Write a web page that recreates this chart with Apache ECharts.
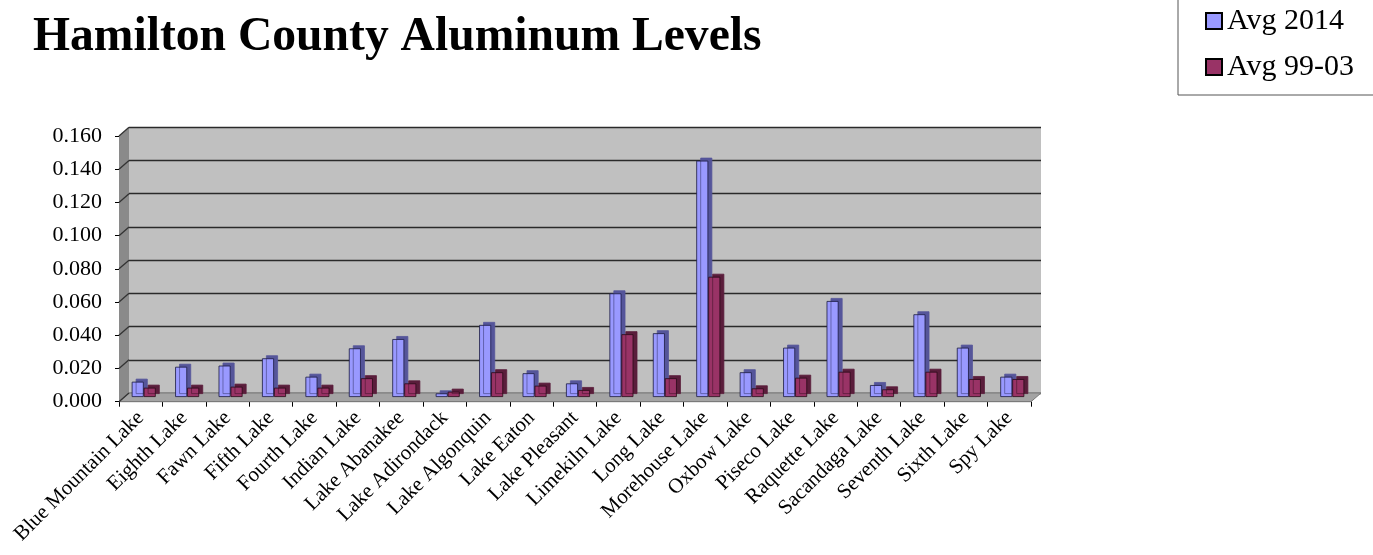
<!DOCTYPE html>
<html>
<head>
<meta charset="utf-8">
<script src="https://cdn.jsdelivr.net/npm/echarts@6/dist/echarts.min.js"></script>
<style>html,body{margin:0;padding:0;background:#fff}#c{width:1373px;height:555px}</style>
</head>
<body>
<div id="c"></div>
<script>
const categories = ['Blue Mountain Lake','Eighth Lake','Fawn Lake','Fifth Lake','Fourth Lake','Indian Lake','Lake Abanakee','Lake Adirondack','Lake Algonquin','Lake Eaton','Lake Pleasant','Limekiln Lake','Long Lake','Morehouse Lake','Oxbow Lake','Piseco Lake','Raquette Lake','Sacandaga Lake','Seventh Lake','Sixth Lake','Spy Lake'];
const avg2014 = [0.0092,0.0182,0.0189,0.0233,0.0122,0.0293,0.0349,0.0022,0.0434,0.0143,0.0082,0.0624,0.0384,0.1423,0.0149,0.0297,0.0578,0.0072,0.0498,0.0297,0.0122];
const avg9903 = [0.0056,0.0056,0.0062,0.0056,0.0056,0.0113,0.0082,0.0032,0.0149,0.0068,0.0042,0.0378,0.0113,0.0724,0.0052,0.0116,0.0152,0.0046,0.0152,0.0108,0.0108];
const yTicks = [0,0.02,0.04,0.06,0.08,0.10,0.12,0.14,0.16];

const FONT = 'Liberation Serif';
// layout
const W = 912, H = 265.7;
const front = {left:119, top:136};
const back = {left:129, top:127.3};
const bars = {left:122, top:131.3};

const chart = echarts.init(document.getElementById('c'), null, {renderer:'canvas'});

// decorative 3D frame (side wall, floor, side gridlines) derived from layout
const graphics = [];
const fb = front.top + H, bb = back.top + H;
graphics.push({type:'polygon', z:1, shape:{points:[[front.left,front.top],[back.left,back.top],[back.left,bb],[front.left,fb]]}, style:{fill:'#8a8a8a'}});
graphics.push({type:'polygon', z:1, shape:{points:[[front.left,fb],[front.left+W,fb],[back.left+W,bb],[back.left,bb]]}, style:{fill:'#a4a4a4', stroke:'#7a7a7a', lineWidth:1}});
yTicks.forEach(function(t){
  const fy = front.top + H*(1 - t/0.16), by = back.top + H*(1 - t/0.16);
  graphics.push({type:'line', z:1, shape:{x1:front.left,y1:fy,x2:back.left,y2:by}, style:{stroke:'#333', lineWidth:1.3}});
});

const option = {
  animation:false,
  backgroundColor:'#fff',
  title:{text:'Hamilton County Aluminum Levels', left:28, top:9, textStyle:{fontFamily:FONT, fontWeight:'bold', fontSize:47.6, color:'#000'}},
  legend:{
    orient:'vertical', left:1178, top:-4,
    padding:[10,40,13,27],
    itemGap:16, itemWidth:16, itemHeight:16, icon:'rect',
    borderColor:'#555', borderWidth:1, backgroundColor:'#fff',
    textStyle:{fontFamily:FONT, fontSize:30, color:'#000', padding:[0,0,0,0]},
    itemStyle:{borderColor:'#000', borderWidth:2, shadowBlur:0, shadowOffsetX:0, shadowOffsetY:0, shadowColor:'rgba(0,0,0,0)'},
    data:['Avg 2014','Avg 99-03']
  },
  graphic:graphics,
  grid:[
    {left:back.left, top:back.top, width:W, height:H, show:true, backgroundColor:'#c0c0c0', borderWidth:0},
    {left:front.left, top:front.top, width:W, height:H},
    {left:bars.left, top:bars.top, width:W, height:H}
  ],
  xAxis:[
    {gridIndex:0, type:'category', data:categories, show:false},
    {gridIndex:1, type:'category', data:categories, boundaryGap:true,
      axisLine:{show:true, lineStyle:{color:'#000', width:1}},
      axisTick:{show:true, length:5, lineStyle:{color:'#000'}},
      axisLabel:{rotate:45, interval:0, margin:13, fontFamily:FONT, fontSize:21, color:'#000'}},
    {gridIndex:2, type:'category', data:categories, show:false}
  ],
  yAxis:[
    {gridIndex:0, type:'value', min:0, max:0.16, interval:0.02, axisLabel:{show:false}, axisLine:{show:false}, axisTick:{show:false},
      splitLine:{show:true, lineStyle:{color:'#2a2a2a', width:1.4}}},
    {gridIndex:1, type:'value', min:0, max:0.16, interval:0.02,
      axisLine:{show:true, lineStyle:{color:'#000', width:1}},
      axisTick:{show:true, length:4, lineStyle:{color:'#000'}},
      axisLabel:{margin:17, fontFamily:FONT, fontSize:22, color:'#000', formatter:function(v){return v.toFixed(3);}},
      splitLine:{show:false}},
    {gridIndex:2, type:'value', min:0, max:0.16, interval:0.02, show:false, splitLine:{show:false}}
  ],
  series:[
    {name:'Avg 2014', type:'bar', xAxisIndex:2, yAxisIndex:2, data:avg2014, barWidth:12, barGap:'0%', z:3,
      itemStyle:{color:'#9999ff', borderColor:'#1a1a40', borderWidth:0.8, shadowColor:'#55559a', shadowOffsetX:4, shadowOffsetY:-3, shadowBlur:0}},
    {name:'Avg 99-03', type:'bar', xAxisIndex:2, yAxisIndex:2, data:avg9903, barWidth:12, barGap:'0%', z:3,
      itemStyle:{color:'#993366', borderColor:'#2a0a18', borderWidth:0.8, shadowColor:'#5a1d3b', shadowOffsetX:4, shadowOffsetY:-3, shadowBlur:0}}
  ]
};
chart.setOption(option);
</script>
</body>
</html>
